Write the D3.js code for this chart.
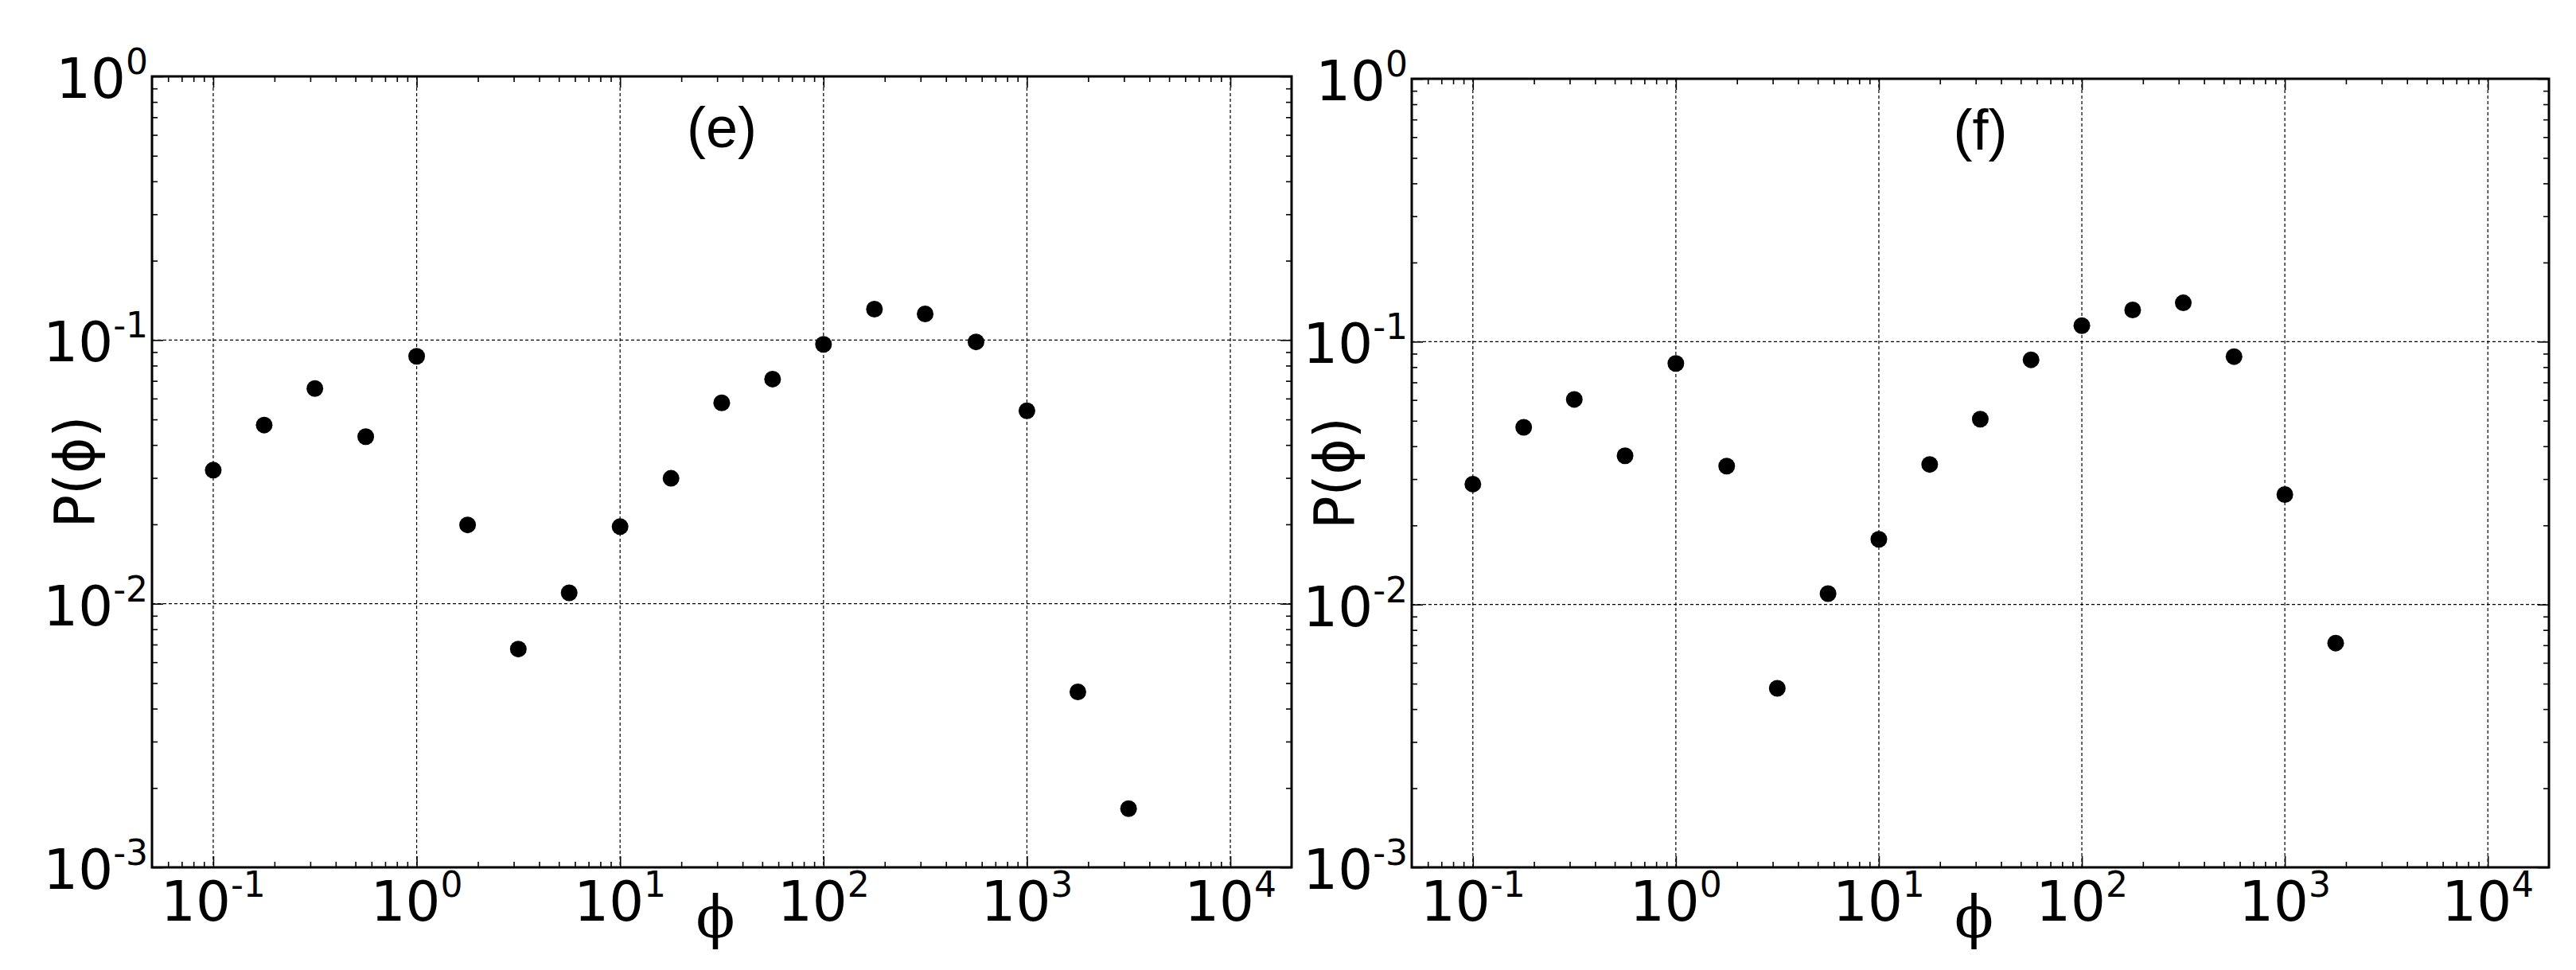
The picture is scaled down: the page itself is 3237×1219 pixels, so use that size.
<!DOCTYPE html>
<html>
<head>
<meta charset="utf-8">
<script src="https://cdn.jsdelivr.net/npm/d3@7/dist/d3.min.js"></script>
<style>
  body { margin: 0; background: #fff; }
</style>
</head>
<body>
<div id="chart"></div>
<script>
// phi values (quarter decade bins)
const phi = [0.1, 0.178, 0.316, 0.562, 1, 1.78, 3.16, 5.62, 10, 17.8, 31.6, 56.2, 100, 178, 316, 562, 1000, 1780, 3160];
// P(phi), panel (e)
const probE = [0.0321, 0.0476, 0.0655, 0.0430, 0.0868, 0.0199, 0.00673, 0.0110, 0.0196, 0.0299,
               0.0578, 0.0711, 0.0963, 0.131, 0.1256, 0.0984, 0.0539, 0.00463, 0.00167];
// P(phi), panel (f)
const probF = [0.0287, 0.0472, 0.0603, 0.0368, 0.0826, 0.0336, 0.0048, 0.0110, 0.0177, 0.0341,
               0.0507, 0.0853, 0.115, 0.132, 0.1405, 0.0877, 0.0262, 0.00713];
const xTickExp = [-1, 0, 1, 2, 3, 4];
const yTickExp = [-3, -2, -1, 0];
const panelNames = ["(e)", "(f)"];

const W = 3237, H = 1219;
const svg = d3.select("#chart").append("svg")
    .attr("width", W)
    .attr("height", H)
    .style("background", "#fff");

const boxes = [
  { left: 191, right: 1623, top: 96, bottom: 1090 },
  { left: 1774, right: 3203, top: 99, bottom: 1090 }
];

function minorTicks(lo, hi) {
  let out = [];
  for (let e = Math.floor(Math.log10(lo)); e <= Math.ceil(Math.log10(hi)); e++) {
    for (let m = 2; m <= 9; m++) {
      let v = m * Math.pow(10, e);
      if (v > lo && v < hi) out.push(v);
    }
  }
  return out;
}

function drawPanel(box, values, name) {
  const w = box.right - box.left, h = box.bottom - box.top;
  const g = svg.append("g").attr("transform", "translate(" + box.left + "," + box.top + ")");

  const x = d3.scaleLog().domain([0.05, 20000]).range([0, w]);
  const y = d3.scaleLog().domain([0.001, 1]).range([h, 0]);

  const xMajor = xTickExp.map(e => Math.pow(10, e));
  const yMajor = yTickExp.map(e => Math.pow(10, e));

  // grid
  g.selectAll(".gx").data(xMajor).enter().append("line")
    .attr("x1", d => x(d)).attr("x2", d => x(d))
    .attr("y1", 0).attr("y2", h)
    .attr("stroke", "#000").attr("stroke-width", 1.2)
    .attr("stroke-dasharray", "4,3");
  g.selectAll(".gy").data(yMajor.filter(d => d > 0.001 && d < 1)).enter().append("line")
    .attr("y1", d => y(d)).attr("y2", d => y(d))
    .attr("x1", 0).attr("x2", w)
    .attr("stroke", "#000").attr("stroke-width", 1.2)
    .attr("stroke-dasharray", "4,3");

  // ticks, inside on all four sides
  const xMinor = minorTicks(0.05, 20000);
  const yMinor = minorTicks(0.001, 1);
  g.append("g").attr("transform", "translate(0," + h + ")")
    .call(d3.axisBottom(x).tickValues(xMajor).tickSize(-14).tickFormat(""));
  g.append("g").attr("transform", "translate(0," + h + ")")
    .call(d3.axisBottom(x).tickValues(xMinor).tickSize(-7).tickFormat(""));
  g.append("g")
    .call(d3.axisTop(x).tickValues(xMajor).tickSize(-14).tickFormat(""));
  g.append("g")
    .call(d3.axisTop(x).tickValues(xMinor).tickSize(-7).tickFormat(""));
  g.append("g")
    .call(d3.axisLeft(y).tickValues(yMajor).tickSize(-14).tickFormat(""));
  g.append("g")
    .call(d3.axisLeft(y).tickValues(yMinor).tickSize(-7).tickFormat(""));
  g.append("g").attr("transform", "translate(" + w + ",0)")
    .call(d3.axisRight(y).tickValues(yMajor).tickSize(-14).tickFormat(""));
  g.append("g").attr("transform", "translate(" + w + ",0)")
    .call(d3.axisRight(y).tickValues(yMinor).tickSize(-7).tickFormat(""));
  g.selectAll(".domain").remove();
  g.selectAll(".tick line").attr("stroke", "#000").attr("stroke-width", 1.6);

  // frame
  g.append("rect")
    .attr("width", w).attr("height", h)
    .attr("fill", "none").attr("stroke", "#000").attr("stroke-width", 3);

  // points
  g.selectAll(".dot").data(values).enter().append("circle")
    .attr("cx", (d, i) => x(phi[i]))
    .attr("cy", d => y(d))
    .attr("r", 10.5)
    .attr("fill", "#000");

  // x tick labels
  xTickExp.forEach(e => {
    const t = g.append("text")
      .attr("x", x(Math.pow(10, e)))
      .attr("y", h + 67)
      .attr("text-anchor", "middle")
      .style("font-family", "DejaVu Sans")
      .style("font-size", "69px");
    t.append("tspan").text("10");
    t.append("tspan").attr("dy", -30).style("font-size", "44px").text(e < 0 ? "-" + (-e) : e);
  });
  // y tick labels
  yTickExp.forEach(e => {
    const t = g.append("text")
      .attr("x", -5)
      .attr("y", y(Math.pow(10, e)) + 27)
      .attr("text-anchor", "end")
      .style("font-family", "DejaVu Sans")
      .style("font-size", "69px");
    t.append("tspan").text("10");
    t.append("tspan").attr("dy", -30).style("font-size", "44px").text(e < 0 ? "-" + (-e) : e);
  });

  // axis labels
  g.append("text")
    .attr("x", w / 2 - 8)
    .attr("y", h + 88)
    .attr("text-anchor", "middle")
    .style("font-family", "DejaVu Serif")
    .style("font-size", "72px")
    .text("ϕ");
  g.append("text")
    .attr("transform", "translate(-73," + (h / 2) + ") rotate(-90)")
    .attr("text-anchor", "middle")
    .style("font-family", "DejaVu Sans")
    .style("font-size", "69px")
    .text("P(ϕ)");

  // panel label
  g.append("text")
    .attr("x", w / 2)
    .attr("y", 89)
    .attr("text-anchor", "middle")
    .style("font-family", "Liberation Sans")
    .style("font-size", "72px")
    .text(name);
}

drawPanel(boxes[0], probE, panelNames[0]);
drawPanel(boxes[1], probF, panelNames[1]);
</script>
</body>
</html>
